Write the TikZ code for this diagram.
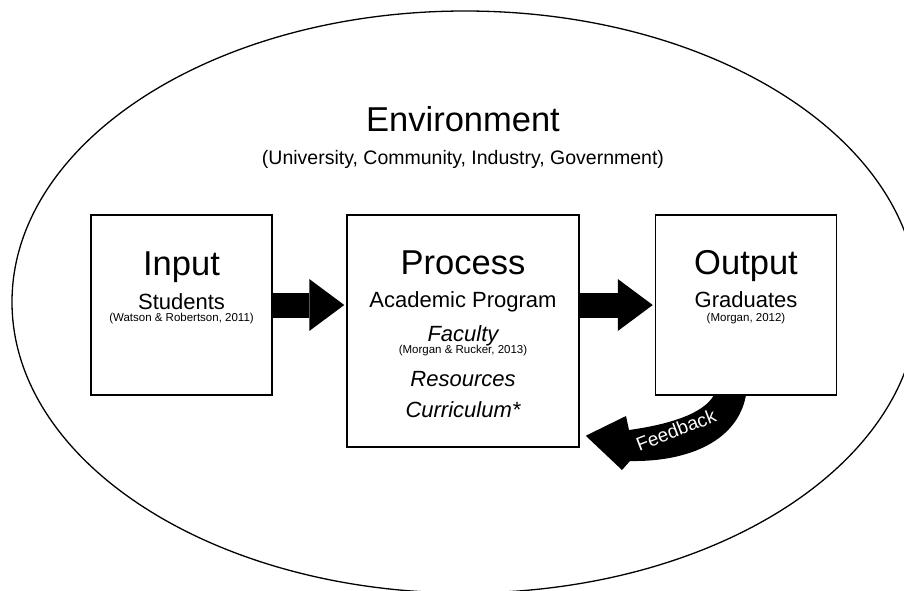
\documentclass[tikz,border=0pt]{standalone}
\usepackage{fontspec}
\setmainfont{Liberation Sans}
\usetikzlibrary{arrows.meta,calc,backgrounds}
\tikzset{
	stage/.style={draw, line width=1.5pt, fill=white, inner sep=0pt},
	blockarrow/.style={line width=25pt, -{Triangle[length=35pt, width=52pt, line width=0pt]}},
	title/.style={anchor=base, font=\fontsize{34.5}{34.5}\selectfont},
	sub/.style={anchor=base, font=\fontsize{22}{22}\selectfont},
	subit/.style={anchor=base, font=\fontsize{22}{22}\selectfont\itshape},
	cite/.style={anchor=base, font=\fontsize{11.5}{11.5}\selectfont},
}

\begin{document}
\begin{tikzpicture}[x=1pt, y=-1pt]
		%%%%% START %%%%%
		\useasboundingbox (0, 0) rectangle (904, 590);
		
		\draw[line width=1.3pt] (465, 302) ellipse (453 and 291);
		
		\node[title] (envTitle) at (463, 131) {Environment};
		\node[anchor=base, font=\fontsize{19.5}{19.5}\selectfont] (envSub) at (463, 164) {(University, Community, Industry, Government)};
		
		\node[stage, minimum width=181pt, minimum height=180pt] (input) at (181.5, 305) {};
		\node[stage, minimum width=232pt, minimum height=232pt] (process) at (463, 331) {};
		\node[stage, minimum width=181pt, minimum height=180pt] (output) at (746, 305) {};
		
		\draw[blockarrow] (input.east) -- ($(process.west |- input.east)+(-2, 0)$);
		\draw[blockarrow] (process.east |- output.west) -- ($(output.west)+(-2, 0)$);
		
		\node[title] (inTitle) at (181.5, 275) {Input};
		\node[sub] (inSub) at (181.5, 309) {Students};
		\node[cite] (inCite) at (181.5, 321.5) {(Watson \& Robertson, 2011)};
		
		\node[title] (procTitle) at (463, 274) {Process};
		\node[sub] (procSub) at (463, 307) {Academic Program};
		\node[subit] (faculty) at (463, 341.5) {Faculty};
		\node[cite] (procCite) at (463, 353) {(Morgan \& Rucker, 2013)};
		\node[subit] (resources) at (463, 386) {Resources};
		\node[subit] (curriculum) at (463, 417.5) {Curriculum*};
		
		\node[title] (outTitle) at (746, 274.5) {Output};
		\node[sub] (outSub) at (746, 307) {Graduates};
		\node[cite] (outCite) at (746, 321) {(Morgan, 2012)};
		
		% feedback loop
		\coordinate (fbOut) at ($(output.south)+(0, -6)$);
		\coordinate (fbIn) at ($(output.south)+(-32, -6)$);
		\coordinate (fbTip) at ($(process.south east)+(6, -12)$);
		\begin{scope}[on background layer]
		\fill[black] (fbOut) -- (746, 395) .. controls (738, 440) and (690, 462) .. (630, 461)
			-- (622, 470) -- (fbTip) -- (626, 416) -- (629, 430)
			.. controls (665, 425) and (703, 415) .. (714, 395) -- (fbIn) -- cycle;
		\end{scope}
		\node[text=white, rotate=21, font=\fontsize{19}{19}\selectfont] (fbLabel) at (676, 430) {Feedback};
		
		%%%%% END %%%%%
\end{tikzpicture}
\end{document}
